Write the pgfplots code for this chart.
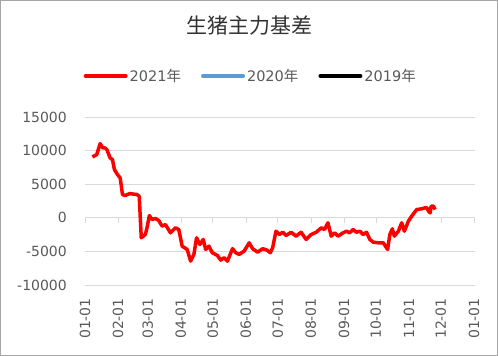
\documentclass[border=0pt]{standalone}
\usepackage{pgfplots}
\pgfplotsset{compat=1.18}
\usepackage{fontspec}
\setmainfont{DejaVu Sans}
\newfontfamily\cjk{Noto Sans CJK SC}
\definecolor{c2021}{HTML}{FF0000}
\definecolor{c2020}{HTML}{5B9BD5}
\definecolor{gridc}{HTML}{D9D9D9}
\definecolor{txt}{HTML}{595959}
\begin{document}
\begin{tikzpicture}
\begin{axis}[name=ax, scale only axis, width=390pt, height=168pt,
 xmin=0, xmax=366, ymin=-10000, ymax=15000,
 ytick={-10000,-5000,0,5000,10000,15000},
 xtick={0,31,59,90,120,151,181,212,243,273,304,334,365},
 xticklabels={01-01,02-01,03-01,04-01,05-01,06-01,07-01,08-01,09-01,10-01,11-01,12-01,01-01},
 axis line style={draw=none}, major tick length=0pt,
 ymajorgrids, grid style={gridc, line width=0.8pt},
 tick label style={font=\fontsize{14}{16}\selectfont, text=txt},
 xticklabel style={rotate=90, anchor=east, inner sep=0pt},
 yticklabel style={anchor=east, inner sep=0pt},
 xticklabel shift=13pt, yticklabel shift=18pt,
 /pgf/number format/assume math mode=true, /pgf/number format/1000 sep={},
 scaled y ticks=false,
 clip=false,
 title={{\cjk 生猪主力基差}},
 title style={at={(axis description cs:0.423,1)}, anchor=center, yshift=85pt, font=\fontsize{21}{24}\selectfont, text=black!80},
 legend columns=3,
 legend style={at={(axis description cs:0.425,1)}, anchor=south, yshift=32pt, draw=none, fill=none, inner sep=0pt,
   font=\fontsize{14.5}{16}\selectfont, text=txt,
   /tikz/every even column/.append style={column sep=18pt}},
 legend image code/.code={\draw[#1, line width=4pt, line cap=round] (0pt,0pt) -- (40pt,0pt);},
]
\pgfplotsinvokeforeach{0,31,59,90,120,151,181,212,243,273,304,334,365}{
  \draw[gridc, line width=0.8pt] (axis cs:#1,0) -- ++(0pt,-5pt);
}
\addplot[c2021, line width=3.5pt, line join=round] coordinates {
(6.9,9060) (11.0,9400) (14.2,11040) (16.7,10400) (18.9,10400) (20.5,10150)
(23.6,8900) (25.8,8660) (27.6,7180) (30.5,6430) (33.0,5940) (35.2,3460)
(37.7,3300) (41.8,3600) (48.8,3460) (50.9,3200) (52.8,-2970) (56.6,-2480)
(58.2,-1490) (60.4,340) (62.9,-250) (66.0,-100) (69.2,-400) (72.4,-1250)
(75.5,-1000) (80.2,-2230) (84.9,-1490) (88.0,-1740) (91.2,-4220) (95.9,-4710)
(99.1,-6450) (102.2,-5450) (104.7,-2970) (107.8,-3970) (111.0,-3220) (113.2,-4710)
(116.3,-4220) (119.5,-5200) (124.2,-5600) (127.4,-6300) (130.5,-5940) (133.7,-6450)
(138.4,-4600) (141.5,-5200) (144.6,-5450) (149.3,-4960) (154.1,-3720) (157.3,-4600)
(162.0,-5110) (166.7,-4600) (170.8,-4810) (173.9,-5200) (176.1,-4460) (179.2,-1990)
(182.4,-2480) (185.6,-2150) (188.7,-2630) (193.4,-2150) (198.1,-2730) (202.8,-2150)
(207.5,-3220) (212.3,-2480) (217.0,-2150) (221.7,-1490) (224.8,-1740) (228.0,-740)
(231.1,-2730) (234.2,-2230) (237.5,-2730) (242.2,-2230) (245.3,-1990) (248.4,-2230)
(251.6,-1740) (254.7,-2150) (257.8,-1990) (261.0,-2480) (264.2,-2150) (267.3,-3220)
(270.5,-3620) (275.2,-3720) (279.9,-3720) (284.0,-4710) (286.1,-2480) (288.4,-1640)
(290.3,-2730) (294.1,-1990) (297.2,-740) (299.7,-1990) (303.5,-500) (306.6,240)
(311.3,1230) (316.0,1340) (319.2,1490) (320.8,1490) (322.4,980) (323.9,730)
(324.8,1720) (327.1,1720) (328.6,1230)
};
\addlegendentry{2021{\cjk 年}}
\addlegendimage{c2020}
\addlegendentry{2020{\cjk 年}}
\addlegendimage{black}
\addlegendentry{2019{\cjk 年}}
\end{axis}
\draw[color=black!35, line width=1.5pt] ([xshift=-84.25pt,yshift=-70.25pt]ax.south west) rectangle ([xshift=22.25pt,yshift=116.25pt]ax.north east);
\end{tikzpicture}
\end{document}
